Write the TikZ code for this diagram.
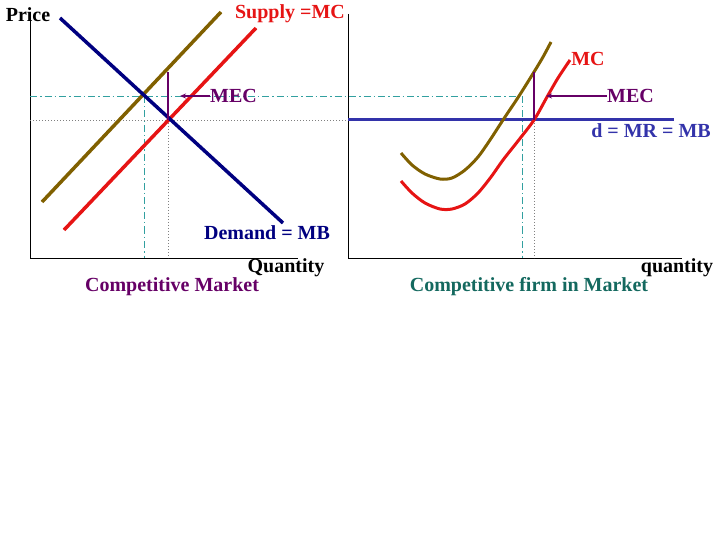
\documentclass[tikz,border=0pt]{standalone}
\usepackage{fontspec}
\setmainfont{Liberation Serif}
\usetikzlibrary{arrows.meta}
\definecolor{navyc}{RGB}{0,0,128}
\definecolor{brownc}{RGB}{128,96,0}
\definecolor{redc}{RGB}{230,20,20}
\definecolor{purc}{RGB}{102,0,102}
\definecolor{tealc}{RGB}{50,160,160}
\definecolor{bluec}{RGB}{51,51,170}
\definecolor{tealtxt}{RGB}{20,105,95}
\tikzset{
  lbl/.style={inner sep=0pt, font=\fontsize{20}{20}\selectfont\bfseries},
  axis/.style={black, line width=1pt},
  curve/.style={line width=3.5pt},
  dashdot/.style={tealc, line width=0.8pt, dash pattern=on 7pt off 3pt on 1.5pt off 3pt},
  dotline/.style={gray, line width=0.8pt, dash pattern=on 1pt off 2pt},
  mec/.style={purc, line width=1.5pt},
  mecarrow/.style={purc, line width=1.5pt, -{Stealth[length=6pt,width=5pt]}}
}
\begin{document}
\begin{tikzpicture}[x=1pt,y=-1pt]
\path[use as bounding box] (0,0) rectangle (720,540);
% ---------- left panel ----------
\coordinate (LO) at (30,258);
\coordinate (LT) at (30,14);
\coordinate (LR) at (298,258);
\draw[axis] (LT) -- (LO) -- (LR);
% guide lines
\coordinate (E1) at (144,96);
\coordinate (E2) at (168,120);
\coordinate (TR) at (522,96);
\coordinate (R2) at (534,120);
\draw[dashdot] (30,96) -- (TR);
\draw[dashdot] (E1) -- (144,258);
\draw[dotline] (30,120) -- (348,120);
\draw[dotline] (E2) -- (168,258);
% curves
\coordinate (D1) at (60,18);
\coordinate (D2) at (283,223);
\coordinate (B1) at (42,202);
\coordinate (B2) at (221,12);
\coordinate (S1) at (64,230);
\coordinate (S2) at (256,28);
\draw[curve, brownc] (B1) -- (B2);
\draw[curve, redc] (S1) -- (S2);
\draw[curve, navyc] (D1) -- (D2);
% MEC
\coordinate (LM) at (168,72);
\draw[mec] (LM) -- (E2);
\node[lbl, purc, anchor=west] (mecL) at (210,96) {MEC};
\coordinate (mecLtip) at (180,96);
\draw[mecarrow] (mecL.west) -- (mecLtip);
% labels
\node[lbl] (price) at (28,15) {Price};
\node[lbl, redc] (supply) at (290,14) {Supply =MC};
\node[lbl, navyc] (demand) at (267,233) {Demand = MB};
\node[lbl] (qL) at (286,268) {Quantity};
\node[lbl, purc] (cm) at (172,287) {Competitive Market};
% ---------- right panel ----------
\coordinate (RO) at (348,258);
\coordinate (RT) at (348,14);
\coordinate (RR) at (682,258);
\draw[axis] (RT) -- (RO) -- (RR);
\draw[dashdot] (TR) -- (522,258);
\draw[dotline] (R2) -- (534,258);
\draw[curve, bluec, line width=3pt] (348,120) -- (674,120);
\draw[curve, brownc, line width=3pt] plot[smooth] coordinates {(401,153) (412,165) (425,174) (440,179) (452,178) (465,170) (478,157) (490,140) (503,120) (519,96) (534,72) (543,57) (551,42)};
\draw[curve, redc, line width=3pt] plot[smooth] coordinates {(401,181) (412,193) (425,203) (440,209) (452,209) (465,204) (478,193) (491,177) (503,160) (518,141) (534,120) (547,97) (558,78) (570,60)};
\coordinate (RM) at (534,72);
\draw[mec] (RM) -- (R2);
\node[lbl, purc, anchor=west] (mecR) at (607,96) {MEC};
\coordinate (mecRtip) at (546,96);
\draw[mecarrow] (mecR.west) -- (mecRtip);
\node[lbl, redc] (mc) at (588,59) {MC};
\node[lbl, bluec] (dmr) at (651,131) {d = MR = MB};
\node[lbl] (qR) at (677,268) {quantity};
\node[lbl, tealtxt] (cf) at (529,287) {Competitive firm in Market};
\end{tikzpicture}
\end{document}
